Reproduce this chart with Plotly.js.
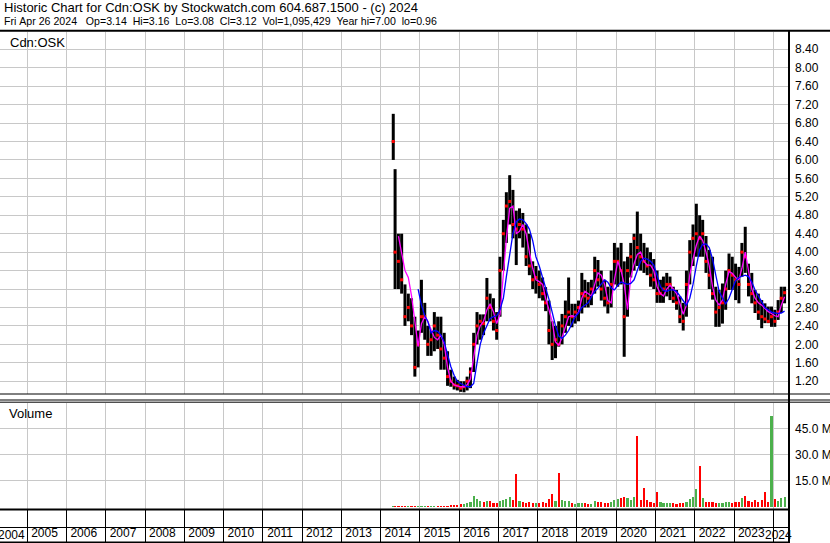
<!DOCTYPE html>
<html><head><meta charset="utf-8">
<script src="https://cdn.plot.ly/plotly-3.0.1.min.js"></script>
<style>html,body{margin:0;padding:0;background:#fff;overflow:hidden}#chart{width:830px;height:543px}</style>
</head><body><div id="chart"></div>
<script>
// ---- data (monthly bars, first bar = late April 2014) ----
const firstBarDate = '2014-04-28';
const high = [
7.00,
5.80,4.40,4.40,3.30,3.10,3.00,2.60,2.30,
3.40,2.90,2.40,2.30,2.70,2.60,2.60,2.25,1.85,1.45,1.30,1.23,
1.20,1.20,1.30,1.50,2.25,2.70,2.65,2.65,3.44,3.10,3.00,2.70,
3.90,4.70,5.30,5.67,5.35,4.90,4.95,4.85,4.60,4.40,3.80,3.70,
3.60,3.45,3.24,2.95,2.50,2.40,2.50,2.66,2.95,3.45,2.88,2.88,
2.95,3.55,3.40,3.35,3.40,3.90,3.83,3.60,3.40,3.25,3.60,4.20,
4.10,4.20,3.80,3.90,4.20,4.40,4.88,4.40,4.20,4.10,4.00,3.85,
3.60,3.40,3.47,3.55,3.47,3.25,3.18,3.04,2.90,3.60,4.26,4.60,
5.05,4.80,4.70,4.35,4.05,3.90,3.25,3.18,3.32,3.60,3.97,3.90,
3.75,3.68,4.20,4.55,3.75,3.55,3.18,3.10,2.96,2.89,2.82,2.82,
2.75,2.96,3.25,3.25];
const low = [
6.00,
3.20,3.20,3.10,2.40,2.50,2.20,1.30,1.50,
2.25,2.10,1.75,1.75,1.85,1.90,1.45,1.45,1.10,1.08,1.02,1.00,
0.97,0.96,1.00,1.05,1.40,2.00,2.10,2.20,2.50,2.50,2.30,2.10,
2.60,3.60,4.20,4.60,4.30,3.72,4.30,4.10,3.70,3.50,3.20,3.10,
3.00,2.95,2.72,2.00,1.66,1.70,1.95,2.00,2.25,2.40,2.37,2.45,
2.50,2.67,2.80,2.80,2.85,3.10,3.25,2.95,2.82,2.67,2.80,3.30,
3.25,3.30,1.73,2.60,3.45,3.60,3.70,3.60,3.55,3.50,3.25,3.20,
2.90,2.90,2.90,3.04,2.96,2.90,2.75,2.46,2.30,2.60,3.30,3.70,
3.90,3.90,3.90,3.55,3.20,2.97,2.38,2.38,2.45,2.75,3.18,3.18,
2.96,2.89,3.47,3.55,3.04,2.89,2.68,2.53,2.35,2.46,2.46,2.38,
2.38,2.53,2.68,2.89];
const close = [
6.40,
4.00,3.80,3.40,2.60,2.80,2.40,1.50,2.00,
2.60,2.60,2.00,2.10,2.40,2.20,1.90,1.70,1.30,1.20,1.12,1.10,
1.05,1.08,1.20,1.40,2.00,2.40,2.50,2.45,3.00,2.80,2.50,2.30,
3.60,4.40,5.00,5.10,4.60,4.50,4.60,4.50,3.90,3.70,3.40,3.45,
3.30,3.10,2.90,2.30,2.00,2.10,2.00,2.40,2.60,2.70,2.60,2.70,
2.80,3.10,3.05,3.00,3.20,3.60,3.40,3.20,3.00,2.90,3.30,3.80,
3.80,3.60,2.60,3.60,3.90,4.30,4.10,3.90,3.80,3.70,3.50,3.40,
3.10,3.10,3.20,3.30,3.30,3.00,2.90,2.60,2.50,3.30,4.00,4.30,
4.40,4.30,4.40,3.80,3.50,3.10,2.70,2.80,2.90,3.20,3.60,3.50,
3.40,3.30,4.00,3.90,3.30,3.10,2.90,2.70,2.60,2.55,2.50,2.60,
2.50,2.70,3.00,3.12];
const maShort = [
null,
null,4.35,4.00,3.60,3.45,3.05,2.50,1.95,
2.45,2.60,2.50,2.30,2.15,2.10,2.20,2.00,1.50,1.20,1.12,1.10,
1.08,1.08,1.12,1.25,1.75,2.20,2.40,2.50,2.75,2.88,2.70,2.45,
2.65,3.60,4.30,4.95,5.00,4.40,4.45,4.60,4.40,4.00,3.65,3.40,
3.36,3.30,3.00,2.75,2.50,2.05,1.98,2.15,2.40,2.60,2.62,2.60,
2.70,3.00,3.15,3.10,3.05,3.30,3.55,3.50,3.30,2.95,2.90,3.40,
3.80,3.60,3.30,2.75,3.45,3.75,3.95,4.00,3.80,3.72,3.72,3.60,
3.25,3.10,3.05,3.20,3.28,3.20,3.10,2.89,2.65,2.85,3.50,3.85,
4.15,4.35,4.25,4.00,3.70,3.25,2.96,2.85,2.96,3.30,3.58,3.54,
3.45,3.40,3.65,4.00,3.60,3.20,3.00,2.90,2.85,2.78,2.71,2.67,
2.62,2.60,2.85,3.03];
const maLong = [
null,
null,null,null,null,null,null,null,3.20,
2.85,2.62,2.50,2.25,2.30,2.28,2.20,2.05,1.80,1.52,1.33,1.20,
1.15,1.11,1.08,1.08,1.15,1.60,2.00,2.24,2.40,2.56,2.60,2.62,
2.75,3.00,3.47,3.95,4.40,4.66,4.72,4.70,4.62,4.50,4.25,3.90,
3.70,3.45,3.25,2.98,2.70,2.40,2.18,2.13,2.20,2.30,2.45,2.60,
2.68,2.80,2.85,2.90,3.03,3.15,3.22,3.30,3.40,3.35,3.22,3.18,
3.28,3.35,3.32,3.30,3.32,3.40,3.60,3.80,3.87,3.85,3.80,3.72,
3.50,3.25,3.17,3.15,3.18,3.18,3.15,3.05,2.95,2.85,3.00,3.30,
3.70,4.05,4.17,4.18,4.10,3.85,3.50,3.15,3.00,2.88,3.00,3.20,
3.38,3.45,3.48,3.50,3.47,3.35,3.18,3.05,2.92,2.80,2.75,2.70,
2.68,2.67,2.68,2.72];
const volumeM = [
0.4,
0.8,0.5,0.5,0.6,0.4,0.5,0.7,0.6,
0.6,0.5,0.6,0.5,0.6,0.5,0.7,0.6,0.8,0.9,1.0,1.2,
1.5,1.8,2.2,3.0,6.5,4.5,3.5,2.8,3.2,3.5,2.5,2.2,
3.5,4.0,4.5,6.0,4.0,19.0,3.5,2.8,2.5,3.0,2.2,2.5,
2.2,2.8,2.5,4.5,7.3,3.5,19.5,4.2,3.2,3.5,2.0,1.8,
2.0,2.5,2.0,1.6,1.8,3.2,2.6,3.0,2.2,2.0,3.0,4.2,
4.5,5.0,6.0,5.0,4.0,5.5,41.0,4.0,11.0,4.0,3.0,2.5,
8.5,3.0,2.5,2.2,2.5,2.0,1.8,2.0,2.5,3.0,4.5,6.0,
10.4,23.8,5.0,3.0,3.0,2.8,2.5,2.0,2.2,2.8,3.0,2.5,
3.0,2.8,5.0,6.5,3.5,3.0,4.0,3.0,4.0,8.8,3.0,52.3,
4.5,3.5,5.0,6.0];
const yearLabels = ['2004','2005','2006','2007','2008','2009','2010','2011','2012','2013','2014',
  '2015','2016','2017','2018','2019','2020','2021','2022','2023','2024'];
const priceTicks = [1.2,1.6,2.0,2.4,2.8,3.2,3.6,4.0,4.4,4.8,5.2,5.6,6.0,6.4,6.8,7.2,7.6,8.0,8.4];
const volTicks = [15,30,45];
const headerLine1 = 'Historic Chart for Cdn:OSK by Stockwatch.com 604.687.1500 - (c) 2024';
const headerLine2 = 'Fri Apr 26 2024   Op=3.14  Hi=3.16  Lo=3.08  Cl=3.12  Vol=1,095,429  Year hi=7.00  lo=0.96';

// ---- build ----
const dates = [firstBarDate];
for (let y = 2014, m = 5; dates.length < high.length;) {
  dates.push(y + '-' + String(m).padStart(2, '0') + '-15');
  m++; if (m > 12) { m = 1; y++; }
}
const barX = [], barY = [];
dates.forEach((d, i) => { barX.push(d, d, null); barY.push(low[i], high[i], null); });
const volColors = close.map((c, i) => (i === 0 || c >= close[i - 1]) ? '#4cb04c' : '#ff0000');
// year labels sit just right of each year boundary; the partial first/last years are placed at the edges
const labelDate = y => y === yearLabels[0] ? y + '-08-10' : (y === yearLabels[yearLabels.length - 1] ? y + '-02-19' : y + '-06-10');
const innerYears = yearLabels.slice(1, -1);
const edgeYears = [yearLabels[0], yearLabels[yearLabels.length - 1]];
const nb = s => s.replace(/ /g, '\u00a0');

const H = 511; // plot area height (543 - top margin 32)
const py = px => (543 - px) / H;          // pixel row -> paper y
const XR = ['2004-04-22', '2024-05-26'];
const GRID = '#c8c8c8';
const FONT = 'Liberation Sans, Arial, sans-serif';

const traces = [
  {type: 'scatter', mode: 'lines', x: barX, y: barY, xaxis: 'x', yaxis: 'y',
   line: {color: '#000', width: 3}, connectgaps: false, hoverinfo: 'skip'},
  {type: 'scatter', mode: 'markers', x: dates, y: close, xaxis: 'x', yaxis: 'y',
   marker: {symbol: 'square', size: 3, color: '#ff0000', line: {width: 0}}, hoverinfo: 'skip'},
  {type: 'scatter', mode: 'lines', x: dates, y: maShort, xaxis: 'x', yaxis: 'y',
   line: {color: '#ff00ff', width: 1.3}, connectgaps: false, hoverinfo: 'skip'},
  {type: 'scatter', mode: 'lines', x: dates, y: maLong, xaxis: 'x', yaxis: 'y',
   line: {color: '#0000ff', width: 1.3}, connectgaps: false, hoverinfo: 'skip'},
  {type: 'bar', x: dates, y: volumeM, xaxis: 'x2', yaxis: 'y2',
   marker: {color: volColors, line: {width: 0}}, width: 20 * 86400000, hoverinfo: 'skip'},
  // empty trace so the date-row subplot (axis x3/y3) is created
  {type: 'scatter', mode: 'markers', x: [], y: [], xaxis: 'x3', yaxis: 'y3', hoverinfo: 'skip'}
];

const hline = (ypx, x1, w) => ({type: 'line', xref: 'paper', yref: 'paper', x0: 0, x1: x1,
  y0: py(ypx), y1: py(ypx), line: {color: '#000', width: w}});

const annotations = [
  {text: nb(headerLine1), xref: 'paper', yref: 'paper', x: 2 / 789, y: py(7.5), xanchor: 'left',
   yanchor: 'middle', showarrow: false, font: {family: FONT, size: 13, color: '#000'}},
  {text: nb(headerLine2), xref: 'paper', yref: 'paper', x: 2 / 789, y: py(21.5), xanchor: 'left',
   yanchor: 'middle', showarrow: false, font: {family: FONT, size: 10.6, color: '#000'}},
  {text: 'Cdn:OSK', xref: 'paper', yref: 'paper', x: 8 / 789, y: py(42), xanchor: 'left',
   yanchor: 'middle', showarrow: false, font: {family: FONT, size: 13, color: '#000'}},
  {text: 'Volume', xref: 'paper', yref: 'paper', x: 7 / 789, y: py(413), xanchor: 'left',
   yanchor: 'middle', showarrow: false, font: {family: FONT, size: 13, color: '#000'}}
].concat(edgeYears.map(y => ({text: y, xref: 'x3', yref: 'paper', x: labelDate(y), y: py(535),
   xanchor: 'center', yanchor: 'middle', showarrow: false, font: {family: FONT, size: 12, color: '#000'}})));

const layout = {
  width: 830, height: 543,
  margin: {l: 0, r: 41, t: 32, b: 0, pad: 0},
  paper_bgcolor: '#fff', plot_bgcolor: '#fff',
  showlegend: false, bargap: 0,
  font: {family: FONT, size: 12, color: '#000'},
  xaxis: {type: 'date', domain: [0, 1], anchor: 'y', range: XR, tickmode: 'linear',
    tick0: '2005-01-01', dtick: 'M12', showticklabels: false, ticks: '', showgrid: true,
    gridcolor: GRID, gridwidth: 1, zeroline: false, showline: false, fixedrange: true},
  xaxis2: {type: 'date', domain: [0, 1], anchor: 'y2', matches: 'x', range: XR, tickmode: 'linear',
    tick0: '2005-01-01', dtick: 'M12', showticklabels: false, ticks: '', showgrid: true,
    gridcolor: GRID, gridwidth: 1, zeroline: false, showline: false, fixedrange: true},
  xaxis3: {type: 'date', domain: [0, 1], anchor: 'y3', matches: 'x', range: XR,
    tickmode: 'array', tickvals: innerYears.map(labelDate), ticktext: innerYears, ticks: '', showgrid: false,
    showline: false, zeroline: false, fixedrange: true, ticklabelposition: 'inside',
    tickfont: {family: FONT, size: 12, color: '#000'}, ticklabelstandoff: 0,
    minor: {tickmode: 'linear', tick0: '2005-01-01', dtick: 'M12', ticks: '',
      showgrid: true, gridcolor: '#000', gridwidth: 1}},
  yaxis: {domain: [py(394), 1], anchor: 'x', side: 'right', range: [0.923, 8.775],
    tickmode: 'array', tickvals: priceTicks, ticktext: priceTicks.map(v => v.toFixed(2)),
    showgrid: true, gridcolor: GRID, gridwidth: 1, zeroline: false, ticks: '', showline: false,
    tickfont: {family: FONT, size: 12, color: '#000'}, ticklabelstandoff: 5, fixedrange: true},
  yaxis2: {domain: [py(509), py(403)], anchor: 'x2', side: 'right', range: [-1.2, 59.9],
    tickmode: 'array', tickvals: volTicks, ticktext: volTicks.map(v => v.toFixed(1) + ' M'),
    showgrid: true, gridcolor: GRID, gridwidth: 1, zeroline: false, ticks: '', showline: false,
    tickfont: {family: FONT, size: 12, color: '#000'}, ticklabelstandoff: 5, fixedrange: true},
  yaxis3: {domain: [py(542), py(510)], anchor: 'x3', range: [0, 1], showticklabels: false,
    showgrid: false, zeroline: false, ticks: '', fixedrange: true},
  shapes: [
    hline(30.8, 1.0520, 2),   // header rule
    hline(394, 1.0520, 1),    // bottom of price panel
    hline(400, 1.0520, 1),    // volume panel top (double)
    hline(402.2, 1.0520, 1),
    hline(509.6, 1, 2),       // volume panel bottom
    hline(527.5, 1, 1),       // date row divider
    hline(542.2, 1, 1.6),     // bottom of date row
    {type: 'line', xref: 'paper', yref: 'paper', x0: 1, x1: 1, y0: 0, y1: py(30.8),
     line: {color: '#000', width: 2}}
  ],
  annotations: annotations
};

Plotly.newPlot('chart', traces, layout, {staticPlot: true, displayModeBar: false});
</script>
</body></html>
